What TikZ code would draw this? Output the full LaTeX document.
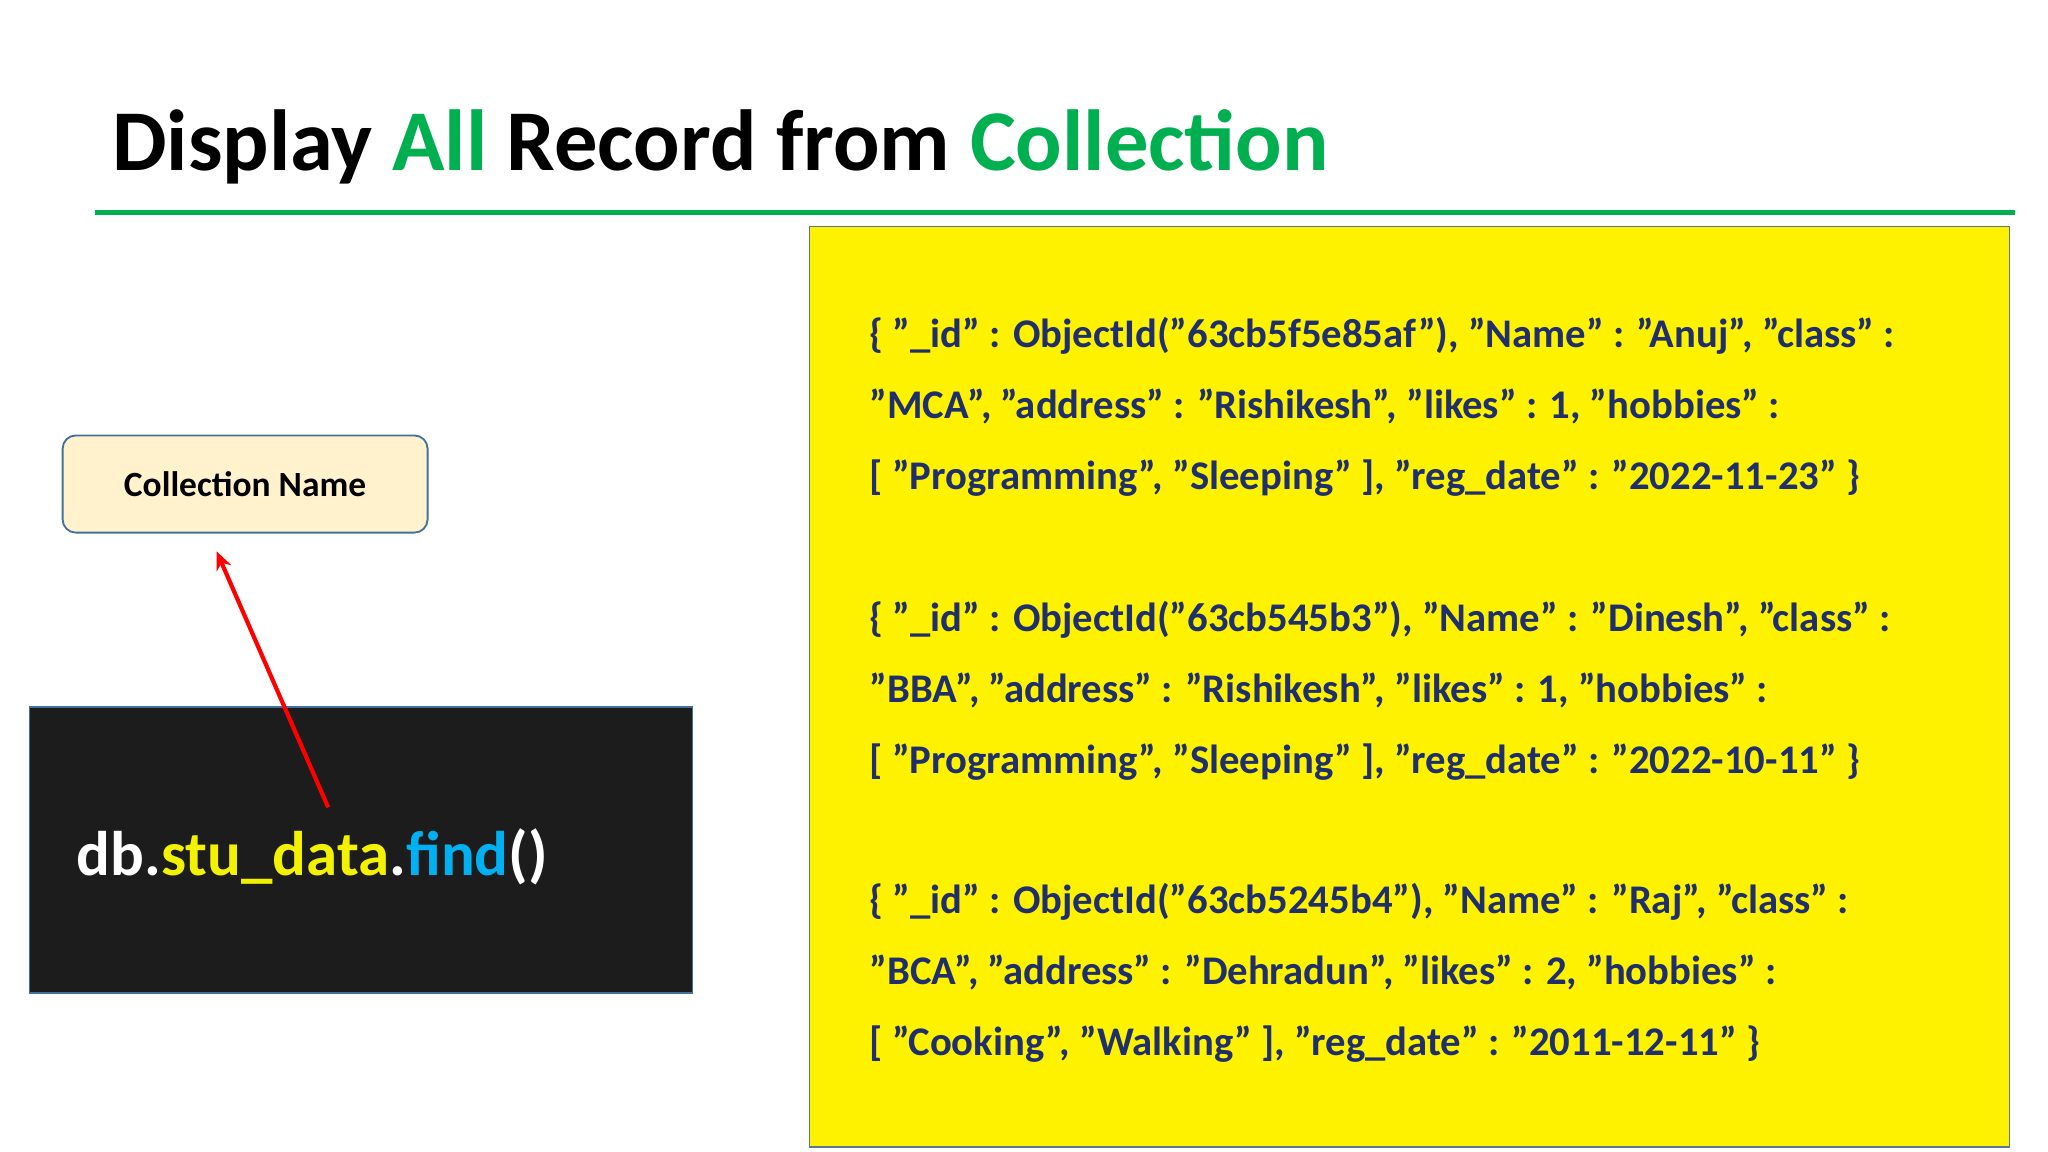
\documentclass[tikz,border=0pt]{standalone}
\usepackage{fontspec}
\setmainfont{Carlito}
\usetikzlibrary{arrows.meta}
\definecolor{tgreen}{HTML}{00B050}
\definecolor{navy}{HTML}{1F2F6B}
\definecolor{cream}{HTML}{FFF2CC}
\definecolor{cbord}{HTML}{41719C}
\definecolor{codebg}{HTML}{1C1C1C}
\definecolor{cyanc}{HTML}{00B0F0}
\definecolor{ycode}{HTML}{F2F200}
\tikzset{rec/.style={anchor=base west,text=navy,font=\fontsize{15.5}{18}\selectfont\bfseries,inner sep=0}}
\begin{document}
\begin{tikzpicture}[x=0.5pt,y=-0.5pt]
\useasboundingbox (0,0) rectangle (1560,877.5);
\fill[white] (0,0) rectangle (1560,877.5);
\node[anchor=base west,inner sep=0,font=\fontsize{33}{40}\selectfont\bfseries] (title) at (85,130)
  {Display \textcolor{tgreen}{All} Record from \textcolor{tgreen}{Collection}};
\draw[tgreen,line width=2pt] (72,162) -- (1535,162);
\node[draw=cbord!60!gray,line width=0.6pt,fill=yellow,minimum width=457pt,minimum height=350.5pt,anchor=north west,inner sep=0] (ybox) at (616,172) {};
\node[rec] (l1) at (662,265) {\{ "\_id" : ObjectId("63cb5f5e85af"), "Name" : "Anuj", "class" :};
\node[rec] (l2) at (662,319) {"MCA", "address" : "Rishikesh", "likes" : 1, "hobbies" :};
\node[rec] (l3) at (662,373) {[ "Programming", "Sleeping" ], "reg\_date" : "2022-11-23" \}};
\node[rec] (l4) at (662,481) {\{ "\_id" : ObjectId("63cb545b3"), "Name" : "Dinesh", "class" :};
\node[rec] (l5) at (662,535) {"BBA", "address" : "Rishikesh", "likes" : 1, "hobbies" :};
\node[rec] (l6) at (662,589) {[ "Programming", "Sleeping" ], "reg\_date" : "2022-10-11" \}};
\node[rec] (l7) at (662,696) {\{ "\_id" : ObjectId("63cb5245b4"), "Name" : "Raj", "class" :};
\node[rec] (l8) at (662,750) {"BCA", "address" : "Dehradun", "likes" : 2, "hobbies" :};
\node[rec] (l9) at (662,804) {[ "Cooking", "Walking" ], "reg\_date" : "2011-12-11" \}};
\node[draw=cbord,line width=0.7pt,fill=cream,rounded corners=5pt,minimum width=139pt,minimum height=37pt,anchor=north west,inner sep=0,font=\fontsize{13.5}{16}\selectfont\bfseries] (cname) at (47,331) {Collection Name};
\node[draw=cbord,line width=0.6pt,fill=codebg,minimum width=252.5pt,minimum height=109pt,anchor=north west,inner sep=0] (code) at (22,538) {};
\node[anchor=base west,inner sep=0,text=white,font=\fontsize{24}{28}\selectfont\bfseries] (cmd) at (58,667)
  {db.\textcolor{ycode}{stu\_data}.\textcolor{cyanc}{find}()};
\coordinate (as) at (250,615);
\coordinate (ae) at (165,420);
\draw[red,line width=1.6pt,-{Stealth[length=7pt,width=6pt]}] (as) -- (ae);
\end{tikzpicture}
\end{document}
